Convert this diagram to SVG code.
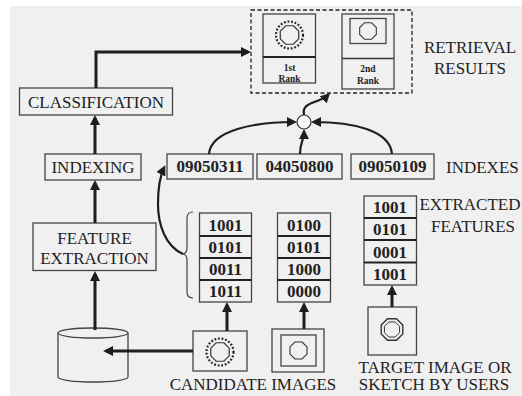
<svg xmlns="http://www.w3.org/2000/svg" xmlns:xlink="http://www.w3.org/1999/xlink" width="522" height="396" viewBox="0 0 522 396">
  <style>
    .box { fill: none; stroke: #444; stroke-width: 1.3; }
    .thin { fill: none; stroke: #444; stroke-width: 1.2; }
    .div { stroke: #222; stroke-width: 2; }
    .lbl { font-family: "Liberation Serif", "Times New Roman", serif; font-size: 17px; fill: #222; text-anchor: middle; }
    .num { font-family: "Liberation Serif", "Times New Roman", serif; font-size: 17px; font-weight: bold; fill: #222; text-anchor: middle; }
    .rank { font-family: "Liberation Serif", "Times New Roman", serif; font-size: 9.5px; font-weight: bold; fill: #222; text-anchor: middle; }
    .arrow { fill: none; stroke: #1e1e1e; stroke-width: 3; marker-end: url(#ah); }
    .curve { fill: none; stroke: #1e1e1e; stroke-width: 2.2; marker-end: url(#ah); }
    .oct { fill: none; stroke: #333; stroke-width: 1.2; vector-effect: non-scaling-stroke; }
    .dots { fill: none; stroke: #222; stroke-width: 2.2; stroke-dasharray: 1.8 1.8; }
  </style>
  <defs>
    <marker id="ah" viewBox="0 0 10 10" refX="7" refY="5" markerWidth="10" markerHeight="10" markerUnits="userSpaceOnUse" orient="auto">
      <path d="M0,0 L10,5 L0,10 Z" fill="#1e1e1e"/>
    </marker>
    <path id="octagon" d="M3.83,-9.24 L9.24,-3.83 L9.24,3.83 L3.83,9.24 L-3.83,9.24 L-9.24,3.83 L-9.24,-3.83 L-3.83,-9.24 Z"/>
  </defs>

  <!-- page -->
  <rect x="0" y="0" width="522" height="396" fill="#ffffff"/>
  <rect x="10" y="6" width="512" height="390" fill="#f0f0f0"/>

  <!-- retrieval results -->
  <g id="results">
    <rect x="251" y="10" width="161" height="83" fill="none" stroke="#222" stroke-width="1.3" stroke-dasharray="4 2.5"/>
    <g id="rank1">
      <rect class="box" x="263" y="14" width="52.5" height="69"/>
      <line class="div" x1="263" y1="57" x2="315.5" y2="57"/>
      <circle class="dots" cx="289.5" cy="35" r="13.5"/>
      <use href="#octagon" class="oct" transform="translate(289.5,35)"/>
      <text class="rank" x="289.5" y="70.5">1st</text>
      <text class="rank" x="289.5" y="82">Rank</text>
    </g>
    <g id="rank2">
      <rect class="box" x="342" y="14" width="52" height="75"/>
      <line x1="342" y1="58.5" x2="394" y2="58.5" stroke="#333" stroke-width="1.5"/>
      <rect class="box" x="350" y="18.5" width="36" height="25"/>
      <use href="#octagon" class="oct" transform="translate(368,31) scale(0.9)"/>
      <text class="rank" x="368" y="71.5">2nd</text>
      <text class="rank" x="368" y="84">Rank</text>
    </g>
    <text class="lbl" x="470" y="53">RETRIEVAL</text>
    <text class="lbl" x="470" y="74">RESULTS</text>
  </g>

  <!-- processing pipeline -->
  <g id="classification">
    <rect class="box" x="19.5" y="88" width="153" height="27"/>
    <text class="lbl" x="96" y="108">CLASSIFICATION</text>
  </g>
  <g id="indexing">
    <rect class="box" x="45" y="154" width="96" height="26"/>
    <text class="lbl" x="93" y="173">INDEXING</text>
  </g>
  <g id="feature-extraction">
    <rect class="box" x="33" y="223" width="123" height="47.5"/>
    <text class="lbl" x="94.5" y="244">FEATURE</text>
    <text class="lbl" x="94.5" y="264">EXTRACTION</text>
  </g>
  <g id="database">
    <path class="box" d="M58,333 A35,5 0 0 1 128,333 V377 A35,5 0 0 1 58,377 Z"/>
    <path class="box" d="M58,333 A35,5 0 0 0 128,333"/>
  </g>

  <!-- indexes -->
  <g id="index1">
    <rect class="box" x="167" y="154" width="86" height="25"/>
    <text class="num" x="210" y="172">09050311</text>
  </g>
  <g id="index2">
    <rect class="box" x="257" y="154" width="85" height="25"/>
    <text class="num" x="299.5" y="172">04050800</text>
  </g>
  <g id="index3">
    <rect class="box" x="351" y="154" width="83" height="25"/>
    <text class="num" x="392.5" y="172">09050109</text>
  </g>
  <text class="lbl" x="446" y="172.5" style="text-anchor:start">INDEXES</text>
  <g id="junction">
    <circle cx="304" cy="122" r="7" fill="#f8f8f8" stroke="#333" stroke-width="1.2"/>
  </g>

  <!-- feature tables -->
  <g id="features1">
    <rect class="box" x="199.5" y="213" width="52" height="89"/>
    <line class="div" x1="199.5" y1="236" x2="251.5" y2="236"/>
    <line class="div" x1="199.5" y1="258" x2="251.5" y2="258"/>
    <line class="div" x1="199.5" y1="280" x2="251.5" y2="280"/>
    <text class="num" x="225.5" y="231">1001</text>
    <text class="num" x="225.5" y="253">0101</text>
    <text class="num" x="225.5" y="275">0011</text>
    <text class="num" x="225.5" y="297">1011</text>
    <path class="thin" d="M193,212 Q187,212 187,218 V248 Q187,254 182,254 Q187,254 187,260 V292 Q187,298 193,298"/>
  </g>
  <g id="features2">
    <rect class="box" x="277.5" y="213" width="53" height="89"/>
    <line class="div" x1="277.5" y1="236" x2="330.5" y2="236"/>
    <line class="div" x1="277.5" y1="258" x2="330.5" y2="258"/>
    <line class="div" x1="277.5" y1="280" x2="330.5" y2="280"/>
    <text class="num" x="304" y="231">0100</text>
    <text class="num" x="304" y="253">0101</text>
    <text class="num" x="304" y="275">1000</text>
    <text class="num" x="304" y="297">0000</text>
  </g>
  <g id="features-target">
    <rect class="box" x="364" y="196" width="52.5" height="89"/>
    <line class="div" x1="364" y1="218" x2="416.5" y2="218"/>
    <line class="div" x1="364" y1="240" x2="416.5" y2="240"/>
    <line class="div" x1="364" y1="262.5" x2="416.5" y2="262.5"/>
    <text class="num" x="390" y="213">1001</text>
    <text class="num" x="390" y="235">0101</text>
    <text class="num" x="390" y="257.5">0001</text>
    <text class="num" x="390" y="280">1001</text>
    <text class="lbl" x="520.5" y="210" style="text-anchor:end">EXTRACTED</text>
    <text class="lbl" x="473" y="232">FEATURES</text>
  </g>

  <!-- images -->
  <g id="candidate1">
    <rect class="box" x="193" y="331" width="54" height="40"/>
    <circle class="dots" cx="220" cy="352" r="13.5"/>
    <use href="#octagon" class="oct" transform="translate(220,352)"/>
  </g>
  <g id="candidate2">
    <rect class="box" x="272" y="329" width="52" height="43"/>
    <rect class="box" x="281" y="335" width="35" height="31"/>
    <use href="#octagon" class="oct" transform="translate(298.5,350.5) scale(0.92)"/>
  </g>
  <text class="lbl" x="253" y="390">CANDIDATE IMAGES</text>
  <g id="target">
    <rect class="box" x="368" y="307" width="48.5" height="48"/>
    <use href="#octagon" class="oct" transform="translate(392,329.5) scale(1.17)"/>
    <use href="#octagon" class="oct" transform="translate(392,329.5) scale(0.82)"/>
    <text class="lbl" x="435" y="372.5">TARGET IMAGE OR</text>
    <text class="lbl" x="434" y="390">SKETCH BY USERS</text>
  </g>

  <!-- connectors -->
  <g id="connectors">
    <path class="arrow" d="M95,330 V274"/>
    <path class="arrow" d="M95,223 V183"/>
    <path class="arrow" d="M95,154 V118"/>
    <path class="arrow" d="M96,88 V52 H248"/>
    <path class="arrow" d="M193,351 H106"/>
    <path class="arrow" d="M227,331 V305"/>
    <path class="arrow" d="M304,329 V305"/>
    <path class="arrow" d="M392,307 V288"/>
    <path class="curve" d="M183,254 C165,246 158,224 158,204 C158,188 160,176 164,168"/>
    <path class="curve" d="M209,154 C211,130 255,122 294,122"/>
    <path class="curve" d="M300,154 C300,142 304,140 304,132"/>
    <path class="curve" d="M392,154 C390,130 352,122 314,122"/>
    <path class="curve" d="M304,115 C302,106 309,104 317,101 C322,99 325,98 328,95"/>
  </g>
</svg>
